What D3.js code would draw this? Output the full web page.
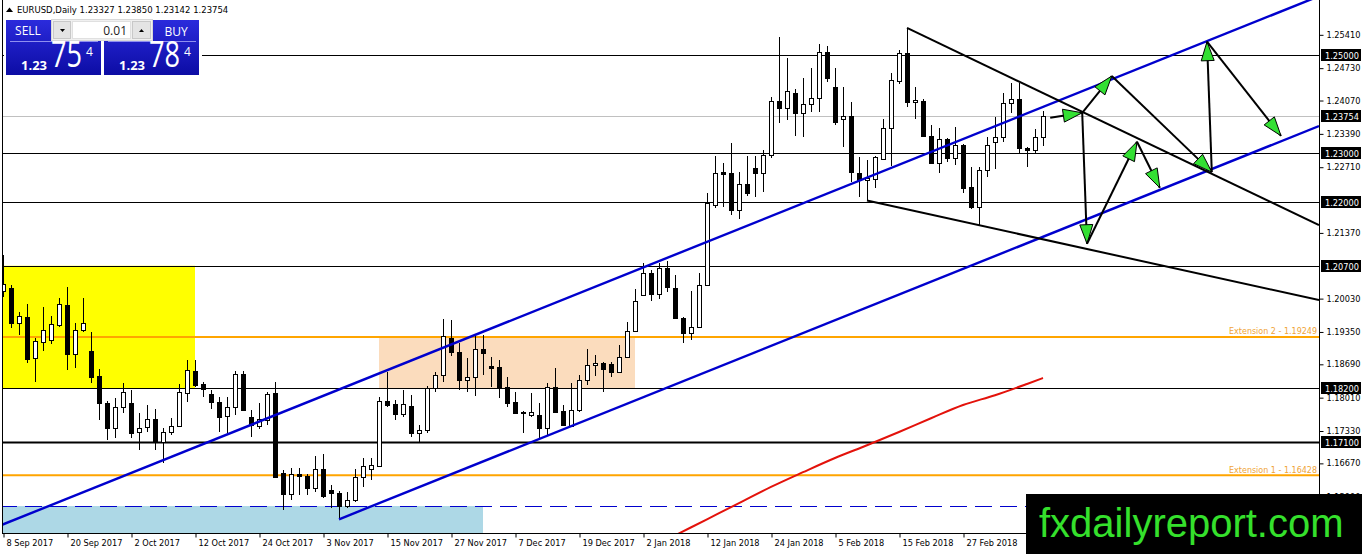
<!DOCTYPE html>
<html>
<head>
<meta charset="utf-8">
<script src="https://cdnjs.cloudflare.com/ajax/libs/d3/7.8.5/d3.min.js"></script>
<style>
body { margin: 0; background: #fff; }
</style>
</head>
<body>
<div id="chart"></div>
<script>
const W = 1362, H = 554;
const PLOT_R = 1319, PLOT_B = 533;

// daily candles, 8 Sep 2017 .. 13 Mar 2018 (bar index = position)
const opens = [1.2019,1.2025,1.1954,1.1966,1.1882,1.1915,1.1918,1.1949,1.1990,1.1890,
1.1939,1.1896,1.1845,1.1790,1.1739,1.1782,1.1790,1.1730,1.1741,1.1757,
1.1711,1.1731,1.1743,1.1811,1.1856,1.1829,1.1808,1.1792,1.1764,1.1782,
1.1849,1.1762,1.1743,1.1755,1.1810,1.1647,1.1604,1.1645,1.1641,1.1616,
1.1655,1.1612,1.1606,1.1581,1.1592,1.1639,1.1655,1.1661,1.1794,1.1788,
1.1768,1.1784,1.1729,1.1735,1.1821,1.1847,1.1923,1.1894,1.1837,1.1843,
1.1900,1.1865,1.1863,1.1822,1.1792,1.1771,1.1766,1.1765,1.1739,1.1822,
1.1773,1.1743,1.1776,1.1837,1.1867,1.1871,1.1869,1.1853,1.1884,1.1937,
1.2010,1.2055,1.2012,1.2065,1.2025,1.1963,1.1933,1.1945,1.2031,1.2194,
1.2261,1.2259,1.2184,1.2237,1.2269,1.2259,1.2296,1.2406,1.2392,1.2423,
1.2382,1.2400,1.2412,1.2506,1.2435,1.2369,1.2375,1.2259,1.2244,1.2247,
1.2288,1.2351,1.2447,1.2504,1.2404,1.2406,1.2335,1.2280,1.2329,1.2290,
1.2316,1.2231,1.2190,1.2265,1.2323,1.2333,1.2402,1.2410,1.2310,1.2306,
1.23327];
const highs = [1.2092,1.2030,1.1976,1.1992,1.1923,1.1986,1.1968,1.2004,1.2027,1.1953,
1.2004,1.1935,1.1860,1.1795,1.1800,1.1831,1.1817,1.1770,1.1786,1.1778,
1.1739,1.1759,1.1829,1.1878,1.1878,1.1833,1.1817,1.1802,1.1802,1.1855,
1.1855,1.1776,1.1790,1.1812,1.1833,1.1653,1.1657,1.1657,1.1645,1.1682,
1.1686,1.1623,1.1610,1.1608,1.1655,1.1678,1.1678,1.1802,1.1853,1.1796,
1.1817,1.1806,1.1745,1.1825,1.1853,1.1961,1.1959,1.1912,1.1882,1.1929,
1.1929,1.1884,1.1878,1.1843,1.1812,1.1773,1.1810,1.1790,1.1831,1.1861,
1.1786,1.1831,1.1847,1.1900,1.1888,1.1873,1.1873,1.1908,1.1955,1.2022,
1.2076,1.2061,1.2076,1.2080,1.2051,1.1965,1.2018,1.2055,1.2219,1.2294,
1.2280,1.2321,1.2261,1.2294,1.2294,1.2306,1.2414,1.2537,1.2494,1.2431,
1.2453,1.2474,1.2523,1.2519,1.2474,1.2435,1.2404,1.2292,1.2286,1.2294,
1.2370,1.2463,1.2510,1.2555,1.2435,1.2410,1.2357,1.2351,1.2331,1.2353,
1.2318,1.2272,1.2272,1.2333,1.2374,1.2423,1.2443,1.2443,1.2312,1.2349,
1.23850];
const lows = [1.2006,1.1944,1.1929,1.1872,1.1833,1.1896,1.1910,1.1945,1.1857,1.1861,
1.1935,1.1831,1.1755,1.1715,1.1719,1.1770,1.1718,1.1694,1.1731,1.1694,
1.1668,1.1725,1.1741,1.1792,1.1822,1.1802,1.1778,1.1731,1.1729,1.1766,
1.1774,1.1721,1.1737,1.1745,1.1637,1.1571,1.1592,1.1602,1.1602,1.1608,
1.1596,1.1577,1.1553,1.1575,1.1588,1.1618,1.1633,1.1659,1.1782,1.1755,
1.1762,1.1721,1.1710,1.1729,1.1813,1.1833,1.1885,1.1817,1.1812,1.1804,
1.1847,1.1822,1.1800,1.1782,1.1770,1.1729,1.1762,1.1716,1.1725,1.1769,
1.1745,1.1741,1.1772,1.1827,1.1845,1.1812,1.1843,1.1851,1.1884,1.1935,
1.2008,1.1998,1.2002,1.2017,1.1961,1.1912,1.1918,1.1943,1.2029,1.2188,
1.2190,1.2174,1.2166,1.2212,1.2210,1.2220,1.2290,1.2361,1.2367,1.2335,
1.2333,1.2384,1.2384,1.2445,1.2358,1.2312,1.2241,1.2210,1.2203,1.2229,
1.2286,1.2274,1.2440,1.2394,1.2370,1.2333,1.2278,1.2259,1.2282,1.2275,
1.2219,1.2186,1.2153,1.2251,1.2268,1.2323,1.2382,1.2298,1.2272,1.2298,
1.23142];
const closes = [1.2032,1.1954,1.1968,1.1880,1.1917,1.1939,1.1951,1.1992,1.1890,1.1939,
1.1953,1.1843,1.1790,1.1739,1.1782,1.1812,1.1729,1.1740,1.1757,1.1711,
1.1731,1.1743,1.1813,1.1858,1.1826,1.1819,1.1792,1.1762,1.1782,1.1849,
1.1776,1.1745,1.1757,1.1808,1.1639,1.1604,1.1645,1.1641,1.1616,1.1655,
1.1600,1.1606,1.1580,1.1592,1.1639,1.1661,1.1663,1.1794,1.1786,1.1768,
1.1788,1.1729,1.1735,1.1821,1.1847,1.1927,1.1894,1.1837,1.1843,1.1900,
1.1892,1.1861,1.1822,1.1790,1.1770,1.1769,1.1771,1.1739,1.1822,1.1771,
1.1745,1.1776,1.1837,1.1867,1.1871,1.1859,1.1853,1.1884,1.1937,1.1998,
1.2055,1.2012,1.2065,1.2027,1.1963,1.1933,1.1945,1.2031,1.2198,1.2259,
1.2258,1.2184,1.2237,1.2218,1.2259,1.2296,1.2406,1.2392,1.2427,1.2382,
1.2400,1.2412,1.2506,1.2453,1.2363,1.2375,1.2261,1.2245,1.2249,1.2292,
1.2351,1.2449,1.2504,1.2404,1.2408,1.2335,1.2280,1.2329,1.2290,1.2316,
1.2229,1.2190,1.2265,1.2316,1.2333,1.2402,1.2410,1.2310,1.2306,1.2333,
1.23754];

// 200 day moving average, read at a few bars
const smaBars = [84, 88, 92, 96, 100, 104, 108, 112, 116, 120, 124, 128, 130];
const smaValues = [1.1520, 1.1553, 1.1586, 1.1619, 1.1649, 1.1678, 1.1704, 1.1731, 1.1759, 1.1786, 1.1806, 1.1829, 1.1841];

const tickBars = [0, 8, 16, 24, 32, 40, 48, 56, 64, 72, 80, 88, 96, 104, 112, 120];
const tickLabels = ["8 Sep 2017", "20 Sep 2017", "2 Oct 2017", "12 Oct 2017", "24 Oct 2017", "3 Nov 2017",
  "15 Nov 2017", "27 Nov 2017", "7 Dec 2017", "19 Dec 2017", "2 Jan 2018", "12 Jan 2018",
  "24 Jan 2018", "5 Feb 2018", "15 Feb 2018", "27 Feb 2018"];
const priceTicks = [1.25410, 1.24730, 1.24070, 1.23390, 1.22710, 1.21370, 1.20030, 1.19350,
  1.18690, 1.18010, 1.17330, 1.16670, 1.15990];

// horizontal levels
const levels = [1.25000, 1.23000, 1.22000, 1.20700, 1.18200, 1.17100];
const bidPrice = 1.23754;
const extLevels = [1.19249, 1.16428];
const extNames = ["Extension 2 - 1.19249", "Extension 1 - 1.16428"];
const dashLevel = 1.1580;

// zones: [fromBar, toBar, topPrice, bottomPrice]
const zoneYellow = [-2, 24, 1.2070, 1.1820];
const zonePeach = [47, 79, 1.1923, 1.1820];
const zoneBlue = [-2, 60, 1.1580, 1.1500];

// trend lines as [bar, price] pairs
const upperChannel = [[-1, 1.1536], [165, 1.2623]];
const lowerChannel = [[42, 1.1553], [164.5, 1.2355]];
const upperFall = [[113, 1.2555], [164.5, 1.2153]];
const lowerFall = [[108, 1.2203], [164.5, 1.2000]];

// projected path arrows
const arrows = [
  [[130.9, 1.2372], [134.9, 1.2382]],
  [[134.9, 1.2382], [138.6, 1.2457]],
  [[138.6, 1.2457], [151.1, 1.2261]],
  [[151.1, 1.2261], [150.5, 1.2527]],
  [[150.5, 1.2527], [159.75, 1.2335]],
  [[134.9, 1.2382], [135.5, 1.2115]],
  [[135.5, 1.2115], [141.75, 1.2323]],
  [[141.75, 1.2323], [144.6, 1.2229]]
];

const MT = "'DejaVu Sans', Verdana, sans-serif";

const x = d3.scaleLinear().domain([0, 164.5]).range([3, PLOT_R]);
const y = d3.scaleLinear().domain([1.1525, 1.2612]).range([PLOT_B, 0]);

const svg = d3.select("#chart").append("svg")
  .attr("width", W)
  .attr("height", H)
  .style("display", "block")
  .style("font-family", MT)

svg.append("rect").attr("width", W).attr("height", H).attr("fill", "#fff")

svg.append("clipPath").attr("id", "plot")
  .append("rect").attr("x", 3).attr("y", 0).attr("width", PLOT_R - 3).attr("height", PLOT_B)

const g = svg.append("g").attr("clip-path", "url(#plot)")

function zone(z, color) {
  g.append("rect")
    .attr("x", x(z[0]))
    .attr("y", y(z[2]))
    .attr("width", x(z[1]) - x(z[0]))
    .attr("height", y(z[3]) - y(z[2]))
    .attr("fill", color)
}
zone(zoneYellow, "#ffff00")
zone(zonePeach, "#fbdcbd")
zone(zoneBlue, "#add8e6")

// levels
g.selectAll(".lvl").data(levels).join("line")
  .attr("x1", 0).attr("x2", PLOT_R)
  .attr("y1", d => Math.round(y(d)) + 0.5).attr("y2", d => Math.round(y(d)) + 0.5)
  .attr("stroke", "#000")
  .attr("stroke-width", d => d === 1.171 ? 2 : 1)

g.append("line")
  .attr("x1", 0).attr("x2", PLOT_R)
  .attr("y1", Math.round(y(bidPrice)) + 0.5).attr("y2", Math.round(y(bidPrice)) + 0.5)
  .attr("stroke", "#c0c0c0")

g.selectAll(".ext").data(extLevels).join("line")
  .attr("x1", 0).attr("x2", PLOT_R)
  .attr("y1", d => y(d)).attr("y2", d => y(d))
  .attr("stroke", "#ffa500")
  .attr("stroke-width", 2)

g.append("line")
  .attr("x1", 0).attr("x2", PLOT_R)
  .attr("y1", Math.round(y(dashLevel)) + 0.5).attr("y2", Math.round(y(dashLevel)) + 0.5)
  .attr("stroke", "#0000cd")
  .attr("stroke-dasharray", "17 8")

// candles
const bars = d3.range(opens.length).map(i => ({ i, o: opens[i], h: highs[i], l: lows[i], c: closes[i] }))

g.selectAll(".wick").data(bars).join("line")
  .attr("x1", d => x(d.i) + 0.5).attr("x2", d => x(d.i) + 0.5)
  .attr("y1", d => Math.round(y(d.h))).attr("y2", d => Math.round(y(d.l)))
  .attr("stroke", "#000")

g.selectAll(".body").data(bars).join("rect")
  .attr("x", d => x(d.i) - 1.5)
  .attr("y", d => Math.round(y(Math.max(d.o, d.c))) + 0.5)
  .attr("width", 4)
  .attr("height", d => Math.max(Math.round(y(Math.min(d.o, d.c))) - Math.round(y(Math.max(d.o, d.c))), 1))
  .attr("fill", d => d.c >= d.o ? "#fff" : "#000")
  .attr("stroke", "#000")

// moving average
g.append("path")
  .datum(smaBars.map((b, k) => [b, smaValues[k]]))
  .attr("d", d3.line().x(d => x(d[0])).y(d => y(d[1])).curve(d3.curveMonotoneX))
  .attr("fill", "none")
  .attr("stroke", "#e3120b")
  .attr("stroke-width", 2)

const seg = d3.line().x(d => x(d[0])).y(d => y(d[1]))

g.append("path").attr("d", seg(upperChannel)).attr("stroke", "#0000cd").attr("stroke-width", 2.4).attr("fill", "none")
g.append("path").attr("d", seg(lowerChannel)).attr("stroke", "#0000cd").attr("stroke-width", 2.4).attr("fill", "none")
g.append("path").attr("d", seg(upperFall)).attr("stroke", "#000").attr("stroke-width", 2).attr("fill", "none")
g.append("path").attr("d", seg(lowerFall)).attr("stroke", "#000").attr("stroke-width", 2).attr("fill", "none")

// arrows
arrows.forEach(a => {
  const x1 = x(a[0][0]), y1 = y(a[0][1]), x2 = x(a[1][0]), y2 = y(a[1][1])
  g.append("line")
    .attr("x1", x1).attr("y1", y1).attr("x2", x2).attr("y2", y2)
    .attr("stroke", "#000").attr("stroke-width", 2)
  const ang = Math.atan2(y2 - y1, x2 - x1)
  const len = 19, half = 6.5
  const bx = x2 - len * Math.cos(ang), by = y2 - len * Math.sin(ang)
  const pts = [
    [x2, y2],
    [bx + half * Math.sin(ang), by - half * Math.cos(ang)],
    [bx - half * Math.sin(ang), by + half * Math.cos(ang)]
  ]
  g.append("polygon")
    .attr("points", pts.map(p => p.join(",")).join(" "))
    .attr("fill", "#33e033")
    .attr("stroke", "#000")
    .attr("stroke-width", 1)
})

// extension labels
g.selectAll(".extlbl").data(extLevels).join("text")
  .attr("x", PLOT_R - 2)
  .attr("y", d => y(d) - 2.5)
  .attr("text-anchor", "end")
  .attr("font-size", "8px")
  .attr("fill", "#f0a438")
  .text((d, i) => extNames[i])

// frame
svg.append("line").attr("x1", 2.5).attr("x2", 2.5).attr("y1", 0).attr("y2", PLOT_B).attr("stroke", "#000")

// axes
const yAxis = svg.append("g")
  .attr("transform", `translate(${PLOT_R + 0.5},0)`)
  .call(d3.axisRight(y).tickValues(priceTicks).tickFormat(d3.format(".5f")).tickSize(4).tickSizeOuter(0).tickPadding(3))
yAxis.select(".domain").attr("d", `M0,0V${H}`)
yAxis.selectAll("text").attr("font-family", MT).attr("font-size", "8.2px").attr("fill", "#000")

const xAxis = svg.append("g")
  .attr("transform", `translate(0,${PLOT_B + 0.5})`)
  .call(d3.axisBottom(x).tickValues(tickBars).tickFormat((d, i) => tickLabels[i]).tickSize(4).tickSizeOuter(0).tickPadding(3))
xAxis.select(".domain").attr("d", `M2,0H${PLOT_R}`)
xAxis.selectAll(".tick line").attr("transform", "translate(0.5,0)")
xAxis.selectAll("text")
  .attr("text-anchor", "start")
  .attr("x", 3)
  .attr("font-family", MT).attr("font-size", "8.2px").attr("fill", "#000")

// highlighted price labels
const boxed = levels.concat([bidPrice])
const lbl = svg.selectAll(".plbl").data(boxed).join("g")
  .attr("transform", d => `translate(${PLOT_R + 2},${Math.round(y(d))})`)
lbl.append("rect").attr("x", 0).attr("y", -6).attr("width", 40).attr("height", 12).attr("fill", "#000")
lbl.append("text")
  .attr("x", 4).attr("y", 3.5)
  .attr("font-size", "8.2px")
  .attr("fill", "#fff")
  .text(d => d.toFixed(5))

// header
svg.append("path").attr("d", "M6,12 L9.5,7.5 L13,12 Z").attr("fill", "#000")
svg.append("text")
  .attr("x", 17).attr("y", 13)
  .attr("font-size", "8.5px")
  .attr("fill", "#000")
  .text("EURUSD,Daily  1.23327 1.23850 1.23142 1.23754")

// one click trading panel
const defs = svg.append("defs")
const grad = defs.append("linearGradient").attr("id", "blue").attr("x1", 0).attr("x2", 0).attr("y1", 0).attr("y2", 1)
grad.append("stop").attr("offset", "0%").attr("stop-color", "#2b2bdc")
grad.append("stop").attr("offset", "100%").attr("stop-color", "#0c0ca4")

const UI = "'Open Sans', 'Liberation Sans', sans-serif";
const panel = svg.append("g")
panel.append("rect").attr("x", 4).attr("y", 18).attr("width", 198).attr("height", 59).attr("fill", "#fff")
panel.append("rect").attr("x", 6).attr("y", 20).attr("width", 95).attr("height", 55).attr("fill", "url(#blue)")
panel.append("rect").attr("x", 104).attr("y", 20).attr("width", 95).attr("height", 55).attr("fill", "url(#blue)")
panel.append("line").attr("x1", 10).attr("x2", 98).attr("y1", 41.5).attr("y2", 41.5).attr("stroke", "#8f8ff0")
panel.append("line").attr("x1", 108).attr("x2", 196).attr("y1", 41.5).attr("y2", 41.5).attr("stroke", "#8f8ff0")

panel.append("rect").attr("x", 51.5).attr("y", 19.5).attr("width", 101).attr("height", 21).attr("fill", "#f0f0f0").attr("stroke", "#d8d8d8")
panel.append("rect").attr("x", 53.5).attr("y", 21.5).attr("width", 17).attr("height", 17).attr("fill", "#e4e4e4").attr("stroke", "#c8c8c8")
panel.append("rect").attr("x", 72.5).attr("y", 21.5).attr("width", 58).attr("height", 17).attr("fill", "#fff").attr("stroke", "#e0e0e0")
panel.append("rect").attr("x", 132.5).attr("y", 21.5).attr("width", 18).attr("height", 17).attr("fill", "#e4e4e4").attr("stroke", "#c8c8c8")
panel.append("path").attr("d", "M60,29 L65,29 L62.5,32 Z").attr("fill", "#000")
panel.append("path").attr("d", "M139,32 L144,32 L141.5,29 Z").attr("fill", "#000")
panel.append("text").attr("x", 127).attr("y", 35).attr("text-anchor", "end")
  .style("font-family", UI).attr("font-size", "12px").attr("fill", "#222").text("0.01")

panel.append("text").attr("x", 28).attr("y", 35).attr("text-anchor", "middle")
  .style("font-family", UI).attr("font-size", "12px").attr("fill", "#fff").text("SELL")
panel.append("text").attr("x", 176).attr("y", 36).attr("text-anchor", "middle")
  .style("font-family", UI).attr("font-size", "12px").attr("fill", "#fff").text("BUY")

const quotes = [
  { x: 21, small: "1.23", big: "75", pip: "4" },
  { x: 119, small: "1.23", big: "78", pip: "4" }
]
quotes.forEach(q => {
  panel.append("text").attr("x", q.x).attr("y", 70).style("font-family", UI)
    .attr("font-size", "13px").attr("font-weight", "bold").attr("fill", "#fff").text(q.small)
  panel.append("text").attr("x", q.x + 30).attr("y", 67).style("font-family", UI)
    .attr("font-size", "36px").attr("fill", "#fff")
    .attr("textLength", 31).attr("lengthAdjust", "spacingAndGlyphs")
    .text(q.big)
  panel.append("text").attr("x", q.x + 65).attr("y", 56).style("font-family", UI)
    .attr("font-size", "12px").attr("fill", "#fff").text(q.pip)
})

// watermark
svg.append("rect").attr("x", 1026).attr("y", 494).attr("width", W - 1026).attr("height", H - 494).attr("fill", "#000")
svg.append("text")
  .attr("x", 1039).attr("y", 537)
  .style("font-family", "'Liberation Sans', Arial, sans-serif")
  .attr("font-size", "40px")
  .attr("fill", "#35e02c")
  .text("fxdailyreport.com")
</script>
</body>
</html>
